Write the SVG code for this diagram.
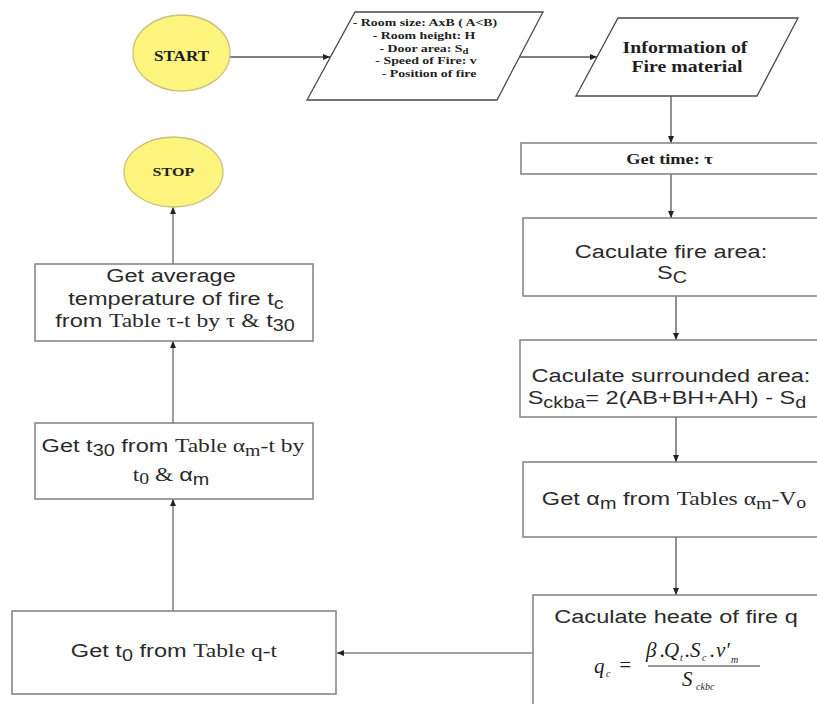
<svg xmlns="http://www.w3.org/2000/svg" width="817" height="704" viewBox="0 0 817 704">
<defs>
<style>
.box{fill:#fff;stroke:#808080;stroke-width:1.5}
.para{fill:#fff;stroke:#4a4a4a;stroke-width:1.3}
.oval{fill:#fdf47e;stroke:#c9c27e;stroke-width:1.3}
.ln{fill:none;stroke:#858585;stroke-width:1.6}
.lnd{fill:none;stroke:#555;stroke-width:1.3}
.sans{font-family:"Liberation Sans",Arial,sans-serif;font-size:19px;fill:#2b2b2b;text-anchor:middle}
.serif{font-family:"Liberation Serif","Times New Roman",serif}
.bser{font-family:"Liberation Serif","Times New Roman",serif;font-weight:bold;fill:#1e1e1e;text-anchor:middle}
.sub{font-size:16px}
.m{font-family:"Liberation Serif","Times New Roman",serif;font-style:italic;font-size:21px;fill:#1e1e1e}
.msub{font-family:"Liberation Serif","Times New Roman",serif;font-style:italic;font-size:10px;fill:#1e1e1e}
</style>
<marker id="ah" markerWidth="7" markerHeight="6" refX="7" refY="3" orient="auto" markerUnits="userSpaceOnUse">
<path d="M0,0 L7,3 L0,6 z" fill="#222"/>
</marker>
</defs>
<rect width="817" height="704" fill="#fff"/>

<g id="connectors">
<line class="lnd" x1="230" y1="57" x2="330" y2="57" marker-end="url(#ah)"/>
<line class="lnd" x1="518" y1="57" x2="597" y2="57" marker-end="url(#ah)"/>
<line class="lnd" x1="671" y1="96" x2="671" y2="143" marker-end="url(#ah)"/>
<line class="lnd" x1="671" y1="174" x2="671" y2="218" marker-end="url(#ah)"/>
<line class="lnd" x1="676" y1="296" x2="676" y2="340" marker-end="url(#ah)"/>
<line class="lnd" x1="676" y1="417" x2="676" y2="462" marker-end="url(#ah)"/>
<line class="lnd" x1="676" y1="537" x2="676" y2="595" marker-end="url(#ah)"/>
<line class="ln" x1="533" y1="653" x2="337" y2="653" marker-end="url(#ah)"/>
<line class="ln" x1="173" y1="611" x2="173" y2="499" marker-end="url(#ah)"/>
<line class="ln" x1="173" y1="423" x2="173" y2="341" marker-end="url(#ah)"/>
<line class="ln" x1="173" y1="264" x2="173" y2="207" marker-end="url(#ah)"/>
</g>

<g id="start">
<ellipse class="oval" cx="181.5" cy="53" rx="48.5" ry="38"/>
<text class="bser" font-size="14" transform="translate(181.5,61) scale(1.22,1)">START</text>
</g>

<g id="input-room">
<polygon class="para" points="355,12 543,12 497,100 307,100"/>
<g class="bser" font-size="11">
<text transform="translate(425,26) scale(1.26,1)">- Room size: AxB ( A&lt;B)</text>
<text transform="translate(424,38.8) scale(1.26,1)">- Room height: H</text>
<text transform="translate(424,51.6) scale(1.26,1)">- Door area: S<tspan font-size="8.5" dy="2">d</tspan></text>
<text transform="translate(426,64.4) scale(1.26,1)">- Speed of Fire: v</text>
<text transform="translate(429,77.2) scale(1.26,1)">- Position of fire</text>
</g>
</g>

<g id="input-material">
<polygon class="para" points="618,18 798,18 757,96 576,96"/>
<text class="bser" font-size="16.5" transform="translate(685,53) scale(1.2,1)">Information of</text>
<text class="bser" font-size="16.5" transform="translate(687,72) scale(1.2,1)">Fire material</text>
</g>

<g id="get-time">
<rect class="box" x="521" y="143" width="300" height="31"/>
<text class="bser" font-size="15" transform="translate(669.5,164) scale(1.22,1)">Get time: τ</text>
</g>

<g id="fire-area">
<rect class="box" x="523" y="218" width="300" height="78"/>
<text class="sans" transform="translate(671,258) scale(1.24,1)">Caculate fire area:</text>
<text class="sans" transform="translate(672,279) scale(1.24,1)">S<tspan class="sub" dy="4">C</tspan></text>
</g>

<g id="surrounded-area">
<rect class="box" x="520" y="340" width="300" height="77"/>
<text class="sans" transform="translate(671,382) scale(1.24,1)">Caculate surrounded area:</text>
<text class="sans" transform="translate(667,404) scale(1.24,1)">S<tspan class="sub" dy="4">ckba</tspan><tspan dy="-4">= 2(AB+BH+AH) - S</tspan><tspan class="sub" dy="4">d</tspan></text>
</g>

<g id="get-alpha">
<rect class="box" x="523" y="462" width="300" height="75"/>
<text class="sans" transform="translate(674,505) scale(1.24,1)">Get α<tspan class="sub" dy="4">m</tspan><tspan dy="-4">  from </tspan><tspan class="serif">Tables α<tspan class="sub" dy="4">m</tspan><tspan dy="-4">-V</tspan><tspan class="sub" dy="3">o</tspan></tspan></text>
</g>

<g id="heat">
<rect class="box" x="533" y="595" width="300" height="120"/>
<text class="sans" transform="translate(676,623) scale(1.24,1)">Caculate heate of fire q</text>
<text class="m" x="594" y="673">q</text>
<text class="msub" x="606" y="677">c</text>
<text class="m" x="618" y="672" font-style="normal">=</text>
<text class="m" x="646" y="657">β</text>
<text class="m" x="660" y="657">.</text>
<text class="m" x="664" y="657">Q</text>
<text class="msub" x="680" y="661">t</text>
<text class="m" x="685" y="657">.</text>
<text class="m" x="690" y="657">S</text>
<text class="msub" x="702" y="661">c</text>
<text class="m" x="710" y="657">.</text>
<text class="m" x="716" y="657">v′</text>
<text class="msub" x="731" y="663">m</text>
<line x1="648" y1="666" x2="760" y2="666" stroke="#333" stroke-width="1"/>
<text class="m" x="682" y="686">S</text>
<text class="msub" x="696" y="690">ckbc</text>
</g>

<g id="get-t0">
<rect class="box" x="12" y="611" width="324" height="83"/>
<text class="sans" transform="translate(174,657) scale(1.24,1)">Get t<tspan class="sub" dy="4">0</tspan><tspan dy="-4">  from </tspan><tspan class="serif">Table q-t</tspan></text>
</g>

<g id="get-t30">
<rect class="box" x="35" y="423" width="278" height="76"/>
<text class="sans" transform="translate(173,452) scale(1.24,1)">Get t<tspan class="sub" dy="4">30</tspan><tspan dy="-4"> from </tspan><tspan class="serif">Table α<tspan class="sub" dy="4">m</tspan><tspan dy="-4">-t by</tspan></tspan></text>
<text class="sans" transform="translate(171,481) scale(1.24,1)"><tspan class="serif">t<tspan class="sub" dy="3">0</tspan><tspan dy="-3"> &amp; </tspan></tspan> α<tspan class="sub" dy="4">m</tspan></text>
</g>

<g id="get-average">
<rect class="box" x="35" y="264" width="278" height="77"/>
<text class="sans" transform="translate(171,282) scale(1.24,1)">Get average</text>
<text class="sans" transform="translate(176,305) scale(1.24,1)">temperature of fire t<tspan class="sub" dy="4">c</tspan></text>
<text class="sans" transform="translate(175,327) scale(1.24,1)">from <tspan class="serif">Table τ-t by τ &amp;</tspan> t<tspan class="sub" dy="4">30</tspan></text>
</g>

<g id="stop">
<ellipse class="oval" cx="173.5" cy="172" rx="49.5" ry="35"/>
<text class="bser" font-size="13" transform="translate(173.5,176) scale(1.24,1)">STOP</text>
</g>
</svg>
